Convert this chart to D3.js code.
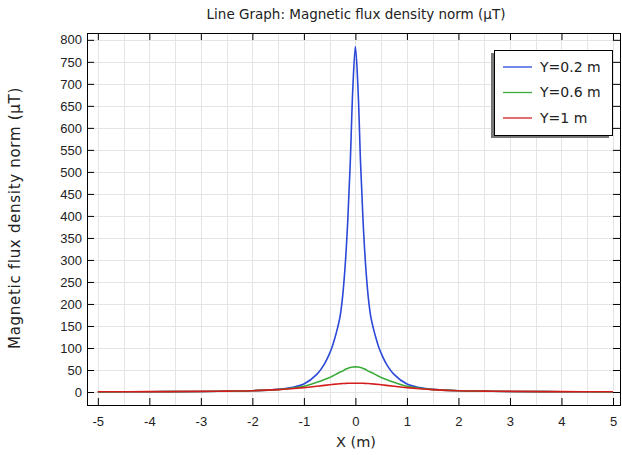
<!DOCTYPE html>
<meta charset="utf-8">
<style>
body { margin: 0; background: #fff; }
svg { font-family: "DejaVu Sans", sans-serif; }
.grid line { stroke: #e4e4e4; stroke-width: 1; }
.axis path { display: none; }
.axis line { stroke: #000; }
.axis text { font-size: 13px; fill: #222; }
</style>
<svg width="622" height="455"></svg>
<script src="https://d3js.org/d3.v7.min.js"></script>
<script>

// values (X in m, B in µT)
var xs = [-5, -4, -3, -2.5, -2, -1.5, -1.25, -1, -0.75, -0.6, -0.5, -0.45, -0.4, -0.35, -0.3, -0.25, -0.2, -0.15, -0.1, -0.05, 0,
          0.05, 0.1, 0.15, 0.2, 0.25, 0.3, 0.35, 0.4, 0.45, 0.5, 0.6, 0.75, 1, 1.25, 1.5, 2, 2.5, 3, 4, 5]
var b02 = [0.4, 0.7, 1.3, 2, 3, 6, 10, 18, 40, 64, 88, 103, 122, 144, 170, 215, 285, 385, 520, 690, 785,
           690, 520, 385, 285, 215, 170, 144, 122, 103, 88, 64, 40, 18, 10, 6, 3, 2, 1.3, 0.7, 0.4]
var b06 = [0.4, 0.7, 1.3, 2, 3, 5.5, 8.5, 13, 22, 28.5, 33, 36, 39, 42, 45, 47.5, 51, 53.5, 55.5, 56.7, 57,
           56.7, 55.5, 53.5, 51, 47.5, 45, 42, 39, 36, 33, 28.5, 22, 13, 8.5, 5.5, 3, 2, 1.3, 0.7, 0.4]
var b10 = [0.5, 0.8, 1.4, 2.1, 3, 5.5, 7.5, 10, 13, 15, 16.5, 17.2, 17.8, 18.3, 18.8, 19.2, 19.5, 19.8, 19.9, 20, 20,
           20, 19.9, 19.8, 19.5, 19.2, 18.8, 18.3, 17.8, 17.2, 16.5, 15, 13, 10, 7.5, 5.5, 3, 2.1, 1.4, 0.8, 0.5]

var seriesNames = ["Y=0.2 m", "Y=0.6 m", "Y=1 m"]
var seriesColors = ["#2b48d8", "#3aab3a", "#d41c1c"]
var xTicks = [-5, -4, -3, -2, -1, 0, 1, 2, 3, 4, 5]
var yTicks = d3.range(0, 801, 50)

var svg = d3.select("svg")
var pl = 87, pr = 620, pt = 33, pb = 405

var x = d3.scaleLinear().domain([-5.21, 5.136]).range([pl, pr])
var y = d3.scaleLinear().domain([-29.5, 815.5]).range([pb, pt])
var plain = function(d) { return String(d) }

// grid
var grid = svg.append("g").attr("class", "grid")
grid.selectAll(".gx")
    .data(d3.range(-5, 5.01, 0.5))
    .enter().append("line")
    .attr("x1", function(d) { return Math.round(x(d)) + 0.5 })
    .attr("x2", function(d) { return Math.round(x(d)) + 0.5 })
    .attr("y1", pt).attr("y2", pb)
grid.selectAll(".gy")
    .data(yTicks)
    .enter().append("line")
    .attr("y1", function(d) { return Math.round(y(d)) + 0.5 })
    .attr("y2", function(d) { return Math.round(y(d)) + 0.5 })
    .attr("x1", pl).attr("x2", pr)

// curves
var series = [b02, b06, b10]
var line = d3.line()
    .x(function(d, i) { return x(xs[i]) })
    .y(function(d) { return y(d) })
    .curve(d3.curveCatmullRom.alpha(0.5))

svg.append("g").selectAll("path")
    .data(series)
    .enter().append("path")
    .attr("d", line)
    .attr("fill", "none")
    .attr("stroke", function(d, i) { return seriesColors[i] })
    .attr("stroke-width", 1.6)

// axes, ticks pointing inward
svg.append("g").attr("class", "axis")
    .attr("transform", "translate(0," + pb + ")")
    .call(d3.axisBottom(x).tickValues(xTicks).tickSize(-7).tickPadding(12).tickFormat(plain))
svg.append("g").attr("class", "axis")
    .attr("transform", "translate(0," + pt + ")")
    .call(d3.axisTop(x).tickValues(xTicks).tickSize(-7).tickFormat(""))
svg.append("g").attr("class", "axis")
    .attr("transform", "translate(" + pl + ",0)")
    .call(d3.axisLeft(y).tickValues(yTicks).tickSize(-7).tickPadding(5).tickFormat(plain))
svg.append("g").attr("class", "axis")
    .attr("transform", "translate(" + pr + ",0)")
    .call(d3.axisRight(y).tickValues(yTicks).tickSize(-7).tickFormat(""))

// frame
svg.append("rect")
    .attr("x", pl + 0.5).attr("y", pt + 0.5)
    .attr("width", pr - pl).attr("height", pb - pt)
    .attr("fill", "none").attr("stroke", "#000")

// titles
svg.append("text")
    .attr("x", 356).attr("y", 19)
    .attr("text-anchor", "middle")
    .attr("font-size", 13.5).attr("fill", "#222")
    .text("Line Graph: Magnetic flux density norm (µT)")

svg.append("text")
    .attr("x", 356).attr("y", 447)
    .attr("text-anchor", "middle")
    .attr("font-size", 14.5).attr("fill", "#222")
    .text("X (m)")

svg.append("text")
    .attr("transform", "translate(20,218) rotate(-90)")
    .attr("text-anchor", "middle")
    .attr("font-size", 15).attr("letter-spacing", 0.7).attr("fill", "#222")
    .text("Magnetic flux density norm (µT)")

// legend
var lg = svg.append("g").attr("transform", "translate(494,50)")
lg.append("rect")
    .attr("x", -3).attr("y", 3)
    .attr("width", 118).attr("height", 85)
    .attr("fill", "#777")
lg.append("rect")
    .attr("x", 0.5).attr("y", 0.5)
    .attr("width", 118).attr("height", 85)
    .attr("fill", "#fff").attr("stroke", "#000")

var item = lg.selectAll(".item")
    .data(seriesNames)
    .enter().append("g")
    .attr("transform", function(d, i) { return "translate(0," + (17 + i * 25.5) + ")" })
item.append("line")
    .attr("x1", 9).attr("x2", 38)
    .attr("stroke", function(d, i) { return seriesColors[i] })
    .attr("stroke-width", 1.3)
item.append("text")
    .attr("x", 46).attr("dy", "0.35em")
    .attr("font-size", 14).attr("fill", "#222")
    .text(function(d) { return d })

</script>
